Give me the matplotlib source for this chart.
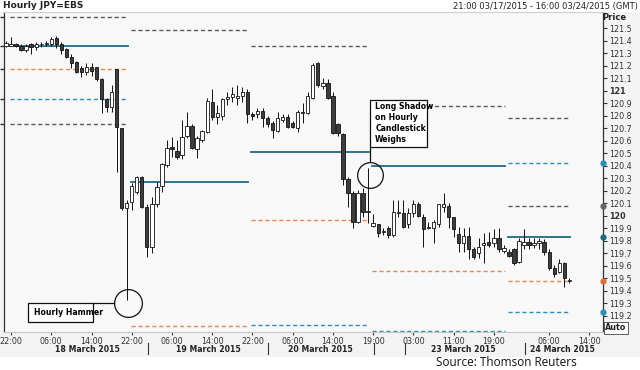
import matplotlib
matplotlib.use("Agg")
import matplotlib.pyplot as plt
from matplotlib.patches import Rectangle
import matplotlib.transforms as mtransforms

# Hourly USD/JPY (EBS) candles, 21:00 17 Mar 2015 onwards, one per bar
opens = [121.36, 121.36, 121.37, 121.36, 121.33, 121.37, 121.35, 121.37, 121.37, 121.37,
         121.42, 121.37, 121.33, 121.27, 121.23, 121.18, 121.15, 121.19, 121.19, 121.09,
         120.93, 120.87, 121.17, 120.70, 120.06, 120.11, 120.19, 120.31, 120.07, 119.75,
         120.09, 120.24, 120.41, 120.55, 120.52, 120.49, 120.64, 120.72, 120.53, 120.61,
         120.67, 120.91, 120.79, 120.80, 120.93, 120.95, 120.94, 120.96, 120.99, 120.81,
         120.81, 120.84, 120.78, 120.74, 120.68, 120.77, 120.79, 120.74, 120.70, 120.82,
         120.82, 120.94, 121.22, 121.04, 121.06, 120.96, 120.73, 120.65, 120.29, 120.18,
         119.95, 120.18, 120.03, 119.92, 119.93, 119.87, 119.90, 119.85, 120.02, 120.02,
         119.93, 120.02, 120.09, 119.99, 119.90, 119.90, 119.93, 120.07, 120.08, 119.99,
         119.85, 119.78, 119.84, 119.73, 119.70, 119.77, 119.79, 119.78, 119.82, 119.72,
         119.71, 119.73, 119.63, 119.77, 119.79, 119.77, 119.78, 119.79, 119.71, 119.58,
         119.55, 119.62, 119.48]
highs = [121.40, 121.43, 121.38, 121.37, 121.37, 121.38, 121.39, 121.39, 121.40, 121.43,
         121.44, 121.39, 121.34, 121.29, 121.24, 121.20, 121.22, 121.22, 121.19, 121.10,
         120.94, 121.05, 121.17, 120.70, 120.13, 120.26, 120.32, 120.32, 120.09, 120.15,
         120.27, 120.42, 120.61, 120.63, 120.61, 120.77, 120.83, 120.73, 120.64, 120.69,
         120.94, 121.01, 120.89, 120.94, 120.99, 121.03, 121.05, 121.03, 121.01, 120.83,
         120.86, 120.86, 120.80, 120.76, 120.83, 120.81, 120.81, 120.76, 120.85, 120.90,
         120.99, 121.22, 121.23, 121.10, 121.09, 120.99, 120.74, 120.66, 120.31, 120.20,
         120.21, 120.22, 120.38, 120.01, 119.93, 119.90, 119.92, 120.13, 120.13, 120.13,
         120.06, 120.13, 120.11, 120.01, 119.95, 119.97, 120.09, 120.18, 120.10, 119.99,
         119.91, 119.90, 119.91, 119.75, 119.82, 119.86, 119.87, 119.89, 119.90, 119.77,
         119.73, 119.74, 119.82, 119.89, 119.82, 119.82, 119.82, 119.81, 119.73, 119.61,
         119.65, 119.63, 119.50]
lows = [121.35, 121.36, 121.35, 121.32, 121.31, 121.29, 121.33, 121.35, 121.36, 121.36,
        121.34, 121.29, 121.26, 121.18, 121.14, 121.11, 121.13, 121.12, 121.08, 120.82,
        120.83, 120.83, 120.35, 120.05, 119.33, 120.05, 120.17, 120.06, 119.67, 119.70,
        120.07, 120.19, 120.39, 120.47, 120.45, 120.45, 120.62, 120.53, 120.46, 120.59,
        120.66, 120.77, 120.73, 120.77, 120.89, 120.91, 120.89, 120.91, 120.74, 120.77,
        120.78, 120.71, 120.71, 120.62, 120.67, 120.75, 120.70, 120.70, 120.67, 120.74,
        120.81, 120.93, 121.03, 121.01, 120.93, 120.65, 120.64, 120.25, 120.07, 119.90,
        119.94, 119.99, 119.94, 119.91, 119.83, 119.85, 119.82, 119.83, 119.99, 119.90,
        119.90, 119.99, 119.99, 119.75, 119.89, 119.78, 119.91, 120.03, 119.90, 119.83,
        119.71, 119.71, 119.65, 119.65, 119.66, 119.62, 119.75, 119.75, 119.71, 119.70,
        119.67, 119.61, 119.62, 119.73, 119.73, 119.74, 119.73, 119.69, 119.57, 119.51,
        119.54, 119.43, 119.46]
closes = [121.38, 121.37, 121.36, 121.33, 121.36, 121.35, 121.37, 121.37, 121.38, 121.41,
          121.37, 121.33, 121.27, 121.22, 121.15, 121.15, 121.19, 121.16, 121.09, 120.93,
          120.87, 120.99, 120.71, 120.06, 120.10, 120.24, 120.31, 120.07, 119.75, 120.09,
          120.23, 120.41, 120.54, 120.53, 120.47, 120.63, 120.72, 120.54, 120.62, 120.68,
          120.92, 120.79, 120.82, 120.93, 120.95, 120.97, 120.96, 120.99, 120.81, 120.80,
          120.84, 120.78, 120.73, 120.69, 120.78, 120.79, 120.71, 120.71, 120.83, 120.83,
          120.96, 121.21, 121.05, 121.06, 120.94, 120.66, 120.66, 120.29, 120.18, 119.95,
          120.18, 120.03, 120.04, 119.94, 119.86, 119.88, 119.85, 120.03, 120.03, 119.91,
          120.02, 120.09, 120.00, 119.89, 119.91, 119.95, 120.09, 120.09, 119.99, 119.89,
          119.78, 119.84, 119.73, 119.67, 119.75, 119.78, 119.77, 119.82, 119.73, 119.74,
          119.68, 119.62, 119.80, 119.79, 119.77, 119.78, 119.80, 119.71, 119.58, 119.53,
          119.62, 119.50, 119.48]

# daily pivot levels: segment start/end (bar), price, kind
level_start = [1, 1, 1, 1, 1, 25, 25, 25, 49, 49, 49, 49,
               73, 73, 73, 73, 100, 100, 100, 100, 100, 100]
level_end = [24, 24, 24, 24, 24, 48, 48, 48, 72, 72, 72, 72,
             99, 99, 99, 99, 112, 112, 112, 112, 112, 112]
level_price = [121.59, 121.36, 121.17, 120.93, 120.73,
               121.49, 120.27, 119.12,
               121.36, 120.51, 119.97, 119.13,
               120.88, 120.40, 119.56, 119.08,
               120.78, 120.42, 120.08, 119.83, 119.48, 119.23]
level_kind = ["r", "p", "s", "t", "r",
              "r", "p", "s",
              "r", "p", "s", "t",
              "r", "p", "s", "t",
              "r", "t", "r", "p", "s", "t"]

tick_pos = [1, 9, 17, 25, 33, 41, 49, 57, 65, 73, 81, 89, 97, 108, 116]
tick_labels = ["22:00", "06:00", "14:00", "22:00", "06:00", "14:00", "22:00", "06:00",
               "14:00", "19:00", "03:00", "11:00", "19:00", "06:00", "14:00"]
day_pos = [16.1, 40.2, 62.6, 91.0, 110.7]
day_labels = ["18 March 2015", "19 March 2015", "20 March 2015", "23 March 2015", "24 March 2015"]
day_breaks = [28.2, 52.1, 73.2, 79.3, 103.2]
price_ticks = [119.2, 119.3, 119.4, 119.5, 119.6, 119.7, 119.8, 119.9, 120.0, 120.1,
               120.2, 120.3, 120.4, 120.5, 120.6, 120.7, 120.8, 120.9, 121.0, 121.1,
               121.2, 121.3, 121.4, 121.5]

styles = {
    "r": dict(color="#5a5a5a", ls=(0, (3, 2)), lw=1.0),
    "p": dict(color="#1f6784", ls="-", lw=1.3),
    "s": dict(color="#e8884e", ls=(0, (3, 2)), lw=1.0),
    "t": dict(color="#2d8db3", ls=(0, (3, 2)), lw=1.0),
}

fig = plt.figure(figsize=(6.4, 3.7), dpi=100)
fig.patches.append(Rectangle((0, 1 - 357 / 370), 1, 345 / 370, transform=fig.transFigure,
                             facecolor="#f3f3f3", edgecolor="none", zorder=-10))
ax = fig.add_axes([4 / 640, 1 - 332 / 370, 599 / 640, 320 / 370])
ax.set_facecolor("#f8f8f8")
ax.set_xlim(-0.4, 118.7)
ax.set_ylim(119.07, 121.63)

for s, e, p, k in zip(level_start, level_end, level_price, level_kind):
    ax.plot([s - 0.2, e + 0.2], [p, p], zorder=2, **styles[k])

for i, (o, h, l, c) in enumerate(zip(opens, highs, lows, closes)):
    ax.vlines(i, l, h, color="#111111", lw=0.7, zorder=3)
    bottom = min(o, c)
    height = max(abs(c - o), 0.006)
    face = "#3d3d3d" if c < o else "white"
    ax.add_patch(Rectangle((i - 0.33, bottom), 0.66, height, facecolor=face,
                           edgecolor="#111111", lw=0.6, zorder=4))

# annotations
ax.add_patch(Rectangle((4.4, 119.15), 12.9, 0.155, facecolor="white",
                       edgecolor="#111111", lw=0.9, zorder=5))
ax.text(5.6, 119.225, "Hourly Hammer", fontsize=5.6, fontweight="bold",
        va="center", ha="left", zorder=6)
ax.plot([17.3, 21.5], [119.305, 119.305], color="#111111", lw=0.9, zorder=5)
ax.plot([24.2], [119.30], marker="o", ms=20, mfc="none", mec="#111111", mew=0.9, zorder=5)

ax.add_patch(Rectangle((72.4, 120.55), 11.3, 0.38, facecolor="white",
                       edgecolor="#111111", lw=0.9, zorder=5))
ax.text(73.4, 120.74, "Long Shadow\non Hourly\nCandlestick\nWeighs", fontsize=5.6,
        fontweight="bold", va="center", ha="left", linespacing=1.3, zorder=6)
ax.plot([72.4, 72.4], [120.55, 120.435], color="#111111", lw=0.9, zorder=5)
ax.plot([72.3], [120.33], marker="o", ms=18.5, mfc="none", mec="#111111", mew=0.9, zorder=5)

# last-value markers on the price scale
marker_colors = {"r": "#666666", "p": "#1f6784", "s": "#d9733a", "t": "#2d8db3"}
for p, k in zip(level_price[-5:], level_kind[-5:]):
    ax.plot([118.7], [p], marker="o", ms=3.5, color=marker_colors[k], clip_on=False, zorder=6)
for p in level_price[:5]:
    ax.plot([-0.4], [p], marker=0, ms=3, color="#333333", clip_on=False, zorder=6)

# axes styling
ax.yaxis.tick_right()
ax.set_yticks(price_ticks)
ax.set_yticklabels(["121" if abs(v - 121) < 1e-6 else "120" if abs(v - 120) < 1e-6 else f"{v:.1f}"
                    for v in price_ticks])
for lab in ax.get_yticklabels():
    if lab.get_text() in ("120", "121"):
        lab.set_fontweight("bold")
ax.tick_params(axis="y", labelsize=5.8, length=3, pad=1.5, colors="#333333")
ax.set_xticks(tick_pos)
ax.set_xticklabels(tick_labels)
ax.tick_params(axis="x", labelsize=5.8, length=2, pad=1.5, colors="#333333")

for side in ("left", "right"):
    ax.spines[side].set_color("#333333")
    ax.spines[side].set_linewidth(0.9)
ax.spines["top"].set_color("#d0d0d0")
ax.spines["bottom"].set_color("#c8c8c8")

trans = mtransforms.blended_transform_factory(ax.transData, ax.transAxes)
for x, lab in zip(day_pos, day_labels):
    ax.text(x, -0.056, lab, transform=trans, fontsize=5.6, fontweight="bold",
            ha="center", va="center", color="#222222")
for x in day_breaks:
    ax.plot([x, x], [-0.035, -0.07], transform=trans, color="#333333", lw=0.8, clip_on=False)

fig.text(3 / 640, 1 - 6 / 370, "Hourly JPY=EBS", fontsize=6.5, fontweight="bold",
         ha="left", va="center", color="#222222")
fig.text(638 / 640, 1 - 6 / 370, "21:00 03/17/2015 - 16:00 03/24/2015 (GMT)", fontsize=6,
         ha="right", va="center", color="#222222")
fig.text(614 / 640, 1 - 17 / 370, "Price", fontsize=6, fontweight="bold",
         ha="center", va="center", color="#222222")
fig.text(616 / 640, 1 - 328 / 370, "Auto", fontsize=5.8, fontweight="bold", ha="center",
         va="center", color="#222222",
         bbox=dict(boxstyle="square,pad=0.15", facecolor="white", edgecolor="#444444", lw=0.6))
fig.text(506 / 640, 1 - 363 / 370, "Source: Thomson Reuters", fontsize=8.5,
         family="Open Sans", ha="center", va="center", color="#111111")

fig.savefig("out.png", dpi=100)
